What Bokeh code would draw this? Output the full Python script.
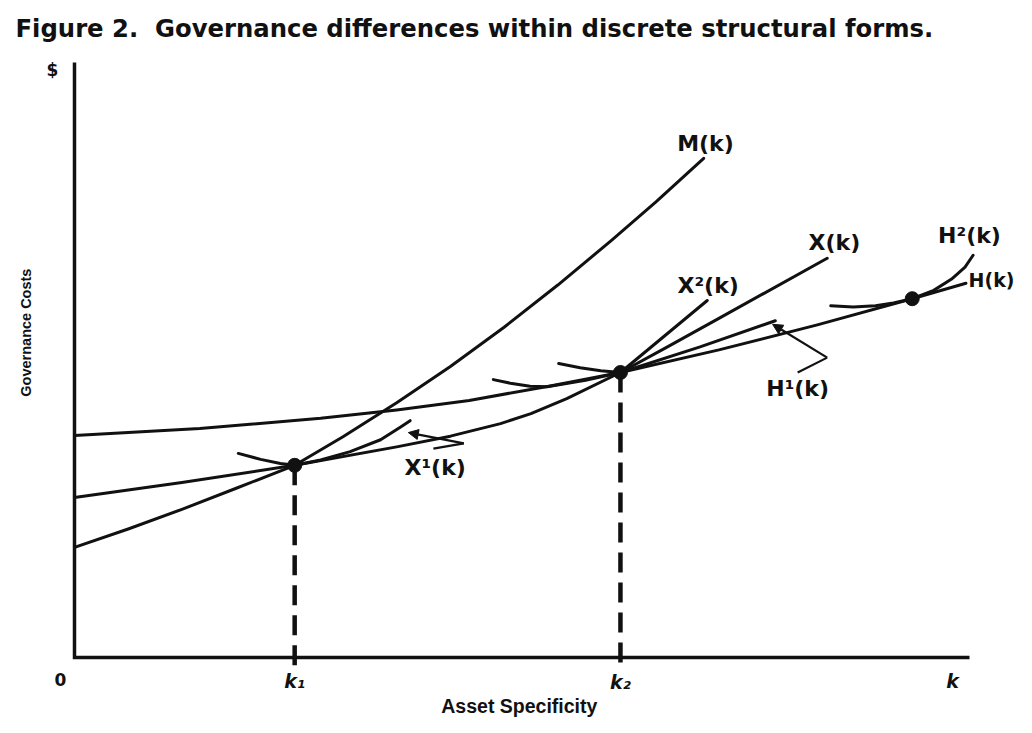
import math
from bokeh.plotting import figure
from bokeh.models import Range1d, Arrow, NormalHead
from bokeh.core.properties import value
from bokeh.embed import file_html
from bokeh.resources import INLINE

# ---------------- data (asset specificity k, governance cost $) ----------------
title_text = "Figure 2.\u00a0 Governance differences within discrete structural forms."
x_title = "Asset Specificity"
y_title = "Governance Costs"

# axis extents
k_max = 10.0
cost_max = 10.0

# market governance M(k)
M_k = [0, 0.6, 1.2, 1.8, 2.46, 3.0, 3.6, 4.2, 4.8, 5.4, 6.0, 6.5, 7.03]
M_cost = [1.85, 2.16, 2.49, 2.84, 3.23, 3.71, 4.28, 4.89, 5.55, 6.26, 7.01, 7.66, 8.39]

# hybrid governance X(k)
X_k = [0, 1.2, 2.46, 3.6, 4.2, 4.76, 5.1, 5.5, 6.10, 6.6, 7.2, 8.41]
X_cost = [2.69, 2.94, 3.23, 3.54, 3.72, 3.93, 4.10, 4.35, 4.79, 5.20, 5.70, 6.71]

# hierarchy H(k)
H_k = [0, 1.4, 2.75, 3.6, 4.41, 5.3, 6.10, 7.2, 8.3, 9.36, 9.96]
H_cost = [3.73, 3.85, 4.02, 4.16, 4.32, 4.56, 4.79, 5.17, 5.59, 6.03, 6.29]

# variants
X1_k = [1.83, 2.08, 2.30, 2.46, 2.75, 3.08, 3.42, 3.64, 3.75]
X1_cost = [3.43, 3.33, 3.26, 3.23, 3.32, 3.46, 3.66, 3.87, 3.98]

X2_k = [5.41, 5.65, 5.88, 6.10, 7.07]
X2_cost = [4.94, 4.87, 4.82, 4.79, 6.00]

H1_k = [4.68, 4.87, 5.09, 5.28, 5.71, 6.10, 6.99, 7.83]
H1_cost = [4.67, 4.61, 4.56, 4.55, 4.66, 4.79, 5.22, 5.66]

H2_k = [8.45, 8.7, 8.95, 9.15, 9.36, 9.6, 9.8, 9.95, 10.04]
H2_cost = [5.91, 5.89, 5.91, 5.96, 6.03, 6.17, 6.36, 6.56, 6.76]

# tangency / switch points
tan_k = [2.46, 6.10, 9.36]
tan_cost = [3.23, 4.79, 6.03]
k_marks = [2.46, 6.10]
k_mark_cost = [3.23, 4.79]
dash_bottom = -0.17

# leader lines (tip, corner, end)
X1_lead_k = [3.73, 4.35, 4.01]
X1_lead_cost = [3.78, 3.60, 3.51]
H1_lead_k = [7.80, 8.41, 8.08]
H1_lead_cost = [5.60, 5.04, 4.79]

# curve labels
curve_labels = ["M(k)", "X(k)", "X\u00b2(k)", "H\u00b2(k)", "H\u00b9(k)", "X\u00b9(k)"]
curve_label_k = [7.05, 8.49, 7.08, 10.0, 8.08, 4.03]
curve_label_cost = [8.64, 6.97, 6.25, 7.09, 4.52, 3.19]
edge_label = ["H(k)"]
edge_label_k = [10.246]
edge_label_cost = [6.34]

# tick labels
k_tick_labels = ["k\u2081", "k\u2082", "k"]
k_tick_pos = [2.46, 6.10, 9.81]
k_tick_cost = [-0.39, -0.42, -0.39]

# ---------------- figure ----------------
W, H = 1016, 717
p = figure(width=W, height=H,
           x_range=Range1d(-0.8268, 10.5251), y_range=Range1d(-1.0084, 11.0420),
           x_axis_type=None, y_axis_type=None,
           toolbar_location=None, output_backend="svg",
           min_border=0, outline_line_color=None)
p.background_fill_color = "white"
p.border_fill_color = "white"

FONT = value("DejaVu Sans")
INK = "#111111"

# axes drawn as an L
p.line([0, 0, k_max], [cost_max, 0, 0], line_color=INK, line_width=3.5, line_join="miter")

# dashed drop lines
p.segment(x0=k_marks, y0=k_mark_cost, x1=k_marks, y1=[dash_bottom] * len(k_marks),
          line_color=INK, line_width=4.5, line_dash="20 10")

# curves
for xs, ys in [(M_k, M_cost), (X_k, X_cost), (H_k, H_cost),
               (X1_k, X1_cost), (X2_k, X2_cost), (H1_k, H1_cost), (H2_k, H2_cost)]:
    p.line(xs, ys, line_color=INK, line_width=3, line_join="round", line_cap="round")

# leader lines with arrow heads
for lk, lc in [(X1_lead_k, X1_lead_cost), (H1_lead_k, H1_lead_cost)]:
    p.line(lk[1:], lc[1:], line_color=INK, line_width=2.2)
    p.add_layout(Arrow(end=NormalHead(size=10, fill_color=INK, line_color=INK, line_width=1),
                       x_start=lk[1], y_start=lc[1], x_end=lk[0], y_end=lc[0],
                       line_color=INK, line_width=2.2))

# tangency dots
p.scatter(tan_k, tan_cost, size=14, color=INK)

# curve labels
p.text(x=curve_label_k, y=curve_label_cost, text=curve_labels,
       text_font=FONT, text_font_style="bold", text_font_size="22px",
       text_align="center", text_baseline="middle", text_color=INK)
p.text(x=edge_label_k, y=edge_label_cost, text=edge_label,
       text_font=FONT, text_font_style="bold", text_font_size="19px",
       text_align="center", text_baseline="middle", text_color=INK)

# tick labels
p.text(x=k_tick_pos, y=k_tick_cost, text=k_tick_labels,
       text_font=FONT, text_font_style="bold italic", text_font_size="19px",
       text_align="center", text_baseline="middle", text_color=INK)
p.text(x=[-0.156], y=[-0.37], text=["0"],
       text_font=FONT, text_font_style="bold", text_font_size="17px",
       text_align="center", text_baseline="middle", text_color=INK)
p.text(x=[-0.246], y=[9.88], text=["$"],
       text_font=FONT, text_font_style="bold", text_font_size="17px",
       text_align="center", text_baseline="middle", text_color=INK)

# axis titles
p.text(x=[4.97], y=[-0.82], text=[x_title],
       text_font=value("Liberation Sans"), text_font_style="bold", text_font_size="19.5px",
       text_align="center", text_baseline="middle", text_color=INK)
p.text(x=[-0.547], y=[5.46], text=[y_title], angle=[math.pi / 2],
       text_font=value("Liberation Sans"), text_font_style="bold", text_font_size="14.5px",
       text_align="center", text_baseline="middle", text_color=INK)

# figure title
p.text(x=[-0.659], y=[10.57], text=[title_text],
       text_font=FONT, text_font_style="bold", text_font_size="24.3px",
       text_align="left", text_baseline="middle", text_color=INK)

open("out.html", "w").write(file_html(p, INLINE))
